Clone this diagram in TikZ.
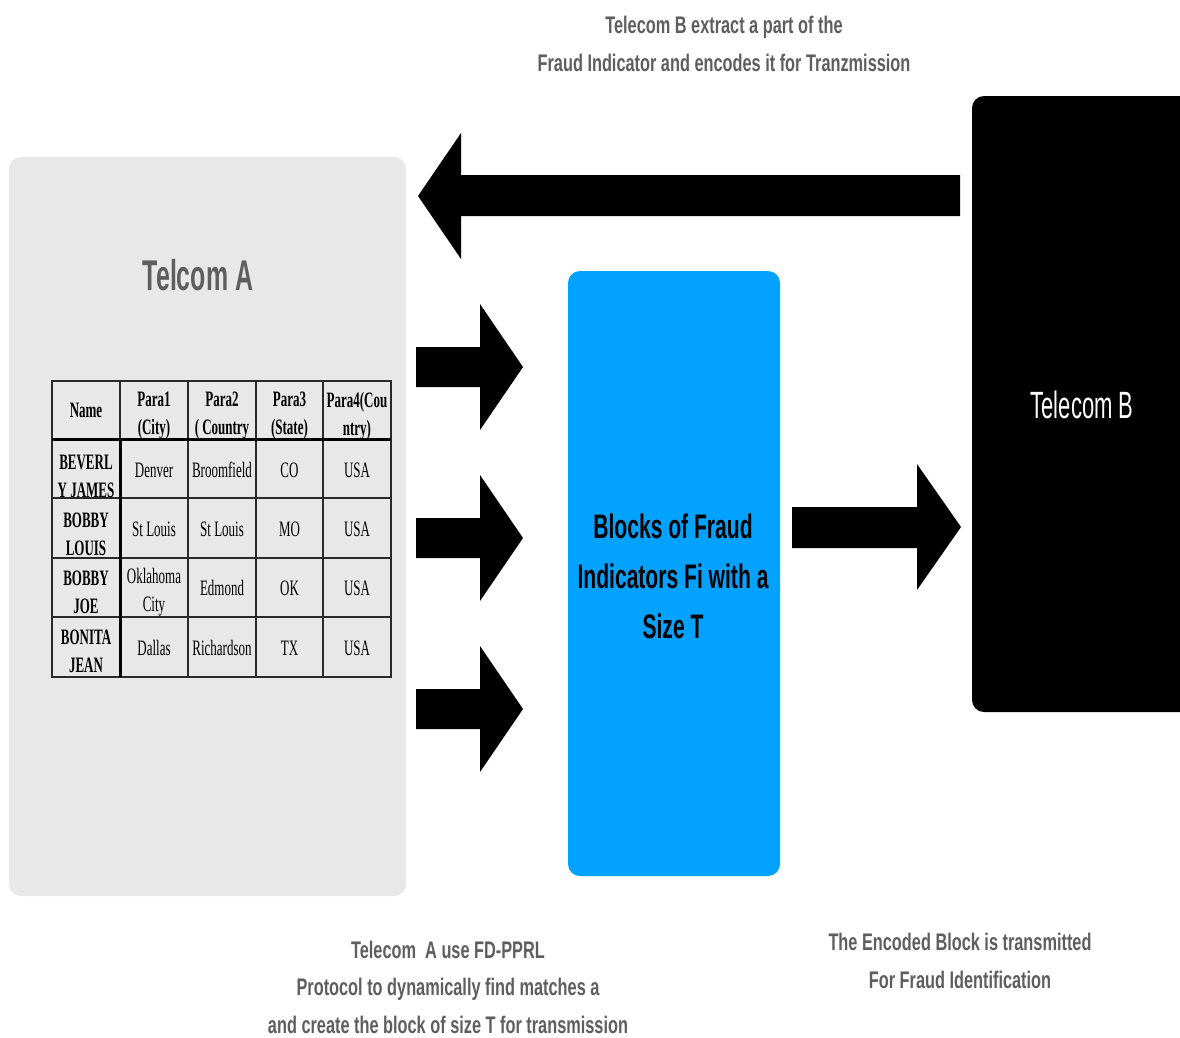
\documentclass[tikz,border=0pt]{standalone}
\usepackage{fontspec}
\setmainfont{Liberation Sans}
\newfontfamily\condA[FakeStretch=0.58]{Liberation Sans}
\newfontfamily\condB[FakeStretch=0.68]{Liberation Sans}
\newfontfamily\condC[FakeStretch=0.62]{Liberation Sans}
\newfontfamily\tabfont[FakeStretch=0.59]{Liberation Serif}
\definecolor{boxgray}{HTML}{E8E8E8}
\definecolor{fraudblue}{HTML}{03A2FE}
\definecolor{notegray}{HTML}{5E5E5E}
\definecolor{tabline}{HTML}{2A2A2A}
\tikzset{
  panel/.style={rounded corners=12pt, inner sep=0pt, draw=none},
  note/.style={font={\condB\bfseries\fontsize{24}{37.5}\selectfont}, text=notegray, align=center, inner sep=0pt},
  blockarrow/.style={fill=black, draw=none},
  tline/.style={draw=tabline, line width=1.3pt},
  thickline/.style={draw=black, line width=3pt},
  cell/.style={font={\tabfont\fontsize{22}{28}\selectfont}, align=center, inner sep=0pt, text=black},
  hcell/.style={font={\tabfont\bfseries\fontsize{22}{28}\selectfont}, align=center, inner sep=0pt, text=black}
}
\begin{document}
\begin{tikzpicture}[x=1pt,y=-1pt]
\useasboundingbox (0,0) rectangle (1180,1037);
\clip (0,0) rectangle (1180,1037);
\fill[white] (0,0) rectangle (1180,1037);

% panels
\node[panel, fill=boxgray, minimum width=397pt, minimum height=739pt] (telcomA) at (207.5,526.5) {};
\node[panel, fill=fraudblue, minimum width=212pt, minimum height=605pt] (blocks) at (674,573.5) {};
\node[panel, fill=black, minimum width=228pt, minimum height=616pt] (telcomB) at (1086,404) {};

% panel labels
\node[font={\condA\bfseries\fontsize{43}{50}\selectfont}, text=notegray, inner sep=0pt] (labA) at (198,275) {Telcom A};
\node[font={\condA\fontsize{38}{44}\selectfont}, text=white, inner sep=0pt] (labB) at (1082,405) {Telecom B};
\node[font={\condC\bfseries\fontsize{34}{50}\selectfont}, text=black, align=center, inner sep=0pt] (labBlocks) at (673,576) {Blocks of Fraud\\Indicators Fi with a\\Size T};

% annotations
\node[note] (noteTop) at (724,44) {Telecom B extract a part of the\\Fraud Indicator and encodes it for Tranzmission};
\node[note] (noteLeft) at (448,987) {Telecom\ \ A use FD-PPRL\\Protocol to dynamically find matches a\\and create the block of size T for transmission};
\node[note] (noteRight) at (960,961) {The Encoded Block is transmitted\\For Fraud Identification};

% block arrows
\fill[blockarrow] (960,175) -- (461,175) -- (461,133) -- (418,196) -- (461,259) -- (461,216) -- (960,216) -- cycle;
\fill[blockarrow] (416,347) -- (480,347) -- (480,304) -- (523,367) -- (480,430) -- (480,387) -- (416,387) -- cycle;
\fill[blockarrow] (416,518) -- (480,518) -- (480,475) -- (523,538) -- (480,601) -- (480,558) -- (416,558) -- cycle;
\fill[blockarrow] (416,689) -- (480,689) -- (480,646) -- (523,709) -- (480,772) -- (480,729) -- (416,729) -- cycle;
\fill[blockarrow] (792,507) -- (917,507) -- (917,464) -- (961,527) -- (917,590) -- (917,548) -- (792,548) -- cycle;

% table
\fill[boxgray] (52,381) rectangle (391,677);
\node[hcell] (h0) at (86,410) {Name};
\node[hcell] (h1) at (154,416) {Para1\\(City)};
\node[hcell] (h2) at (222,416) {Para2\\( Country};
\node[hcell] (h3) at (289.5,416) {Para3\\(State)};
\node[hcell] (h4) at (357,416) {Para4(Cou\\ntry)};

\node[hcell] (r1c0) at (86,476) {BEVERL\\Y JAMES};
\node[cell] (r1c1) at (154,470) {Denver};
\node[cell] (r1c2) at (222,470) {Broomfield};
\node[cell] (r1c3) at (289.5,470) {CO};
\node[cell] (r1c4) at (357,470) {USA};

\node[hcell] (r2c0) at (86,534) {BOBBY\\LOUIS};
\node[cell] (r2c1) at (154,529) {St Louis};
\node[cell] (r2c2) at (222,529) {St Louis};
\node[cell] (r2c3) at (289.5,529) {MO};
\node[cell] (r2c4) at (357,529) {USA};

\node[hcell] (r3c0) at (86,592) {BOBBY\\JOE};
\node[cell] (r3c1) at (154,592) {Oklahoma\\City};
\node[cell] (r3c2) at (222,588) {Edmond};
\node[cell] (r3c3) at (289.5,588) {OK};
\node[cell] (r3c4) at (357,588) {USA};

\node[hcell] (r4c0) at (86,651) {BONITA\\JEAN};
\node[cell] (r4c1) at (154,648) {Dallas};
\node[cell] (r4c2) at (222,648) {Richardson};
\node[cell] (r4c3) at (289.5,648) {TX};
\node[cell] (r4c4) at (357,648) {USA};

\foreach \x in {188,256,323} \draw[tline] (\x,381) -- (\x,677);
\draw[tline] (120,381) -- (120,439);
\foreach \y in {498,558,617} \draw[tline] (52,\y) -- (391,\y);
\draw[tline] (52,381) rectangle (391,677);
\draw[thickline] (120,439) -- (120,677);
\draw[thickline] (52,439) -- (391,439);
\end{tikzpicture}
\end{document}
